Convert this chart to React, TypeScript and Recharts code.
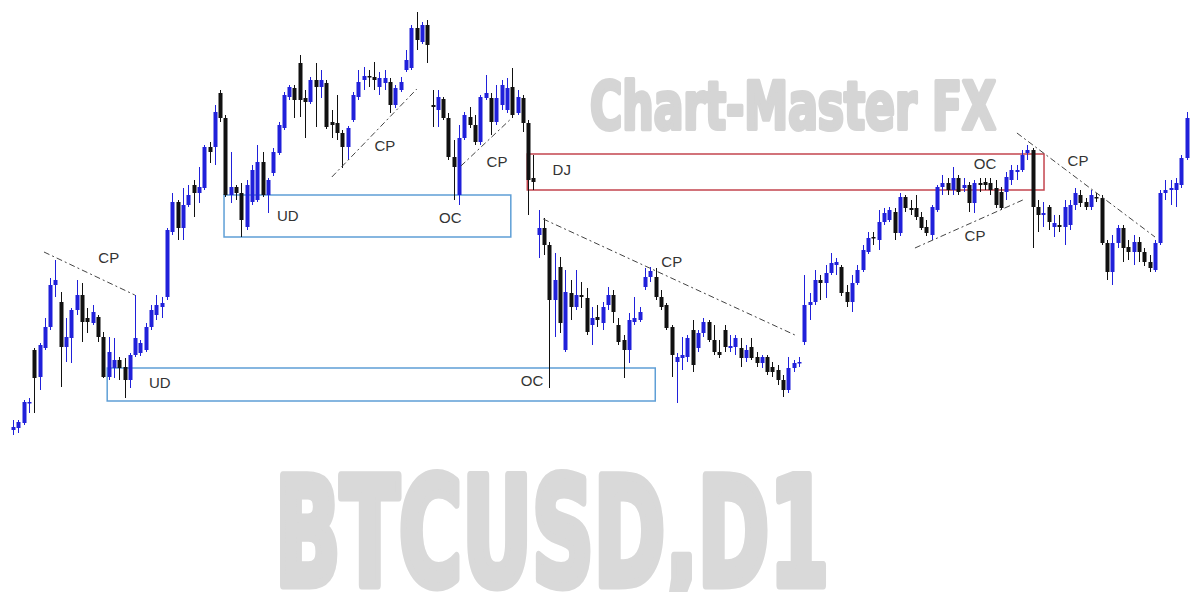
import {
  Bar,
  ComposedChart,
  ReferenceArea,
  ReferenceDot,
  ReferenceLine,
  XAxis,
  YAxis,
} from 'recharts';

// BTCUSD daily candles (price level units)
const OPEN = [
  170, 172, 177, 197, 250, 223, 252, 273, 315, 298,
  253, 262, 290, 305, 282, 277, 283, 263, 223, 232,
  240, 233, 220, 245, 247, 250, 273, 285, 293, 303,
  368, 398, 372, 395, 415, 407, 412, 453, 453, 507,
  482, 405, 413, 407, 373, 398, 400, 438, 405, 427,
  447, 472, 503, 512, 537, 502, 498, 520, 513, 517,
  478, 477, 467, 453, 480, 503, 520, 524, 523, 513,
  517, 518, 495, 510, 530, 532, 572, 558, 575, 495,
  490, 501, 482, 443, 405, 462, 483, 475, 458, 502,
  502, 478, 495, 490, 513, 487, 502, 477, 422, 365,
  372, 355, 300, 333, 250, 307, 293, 305, 302, 275,
  283, 277, 295, 305, 275, 260, 250, 278, 280, 313,
  323, 323, 303, 295, 273, 238, 242, 243, 270, 252,
  267, 278, 260, 248, 270, 252, 253, 252, 242, 253,
  243, 237, 243, 233, 230, 220, 210, 232, 237, 258,
  295, 298, 320, 317, 327, 335, 333, 308, 298, 317,
  330, 348, 363, 360, 378, 380, 388, 367, 403, 392,
  392, 383, 373, 365, 390, 413, 417, 410, 422, 412,
  415, 397, 417, 418, 417, 412, 408, 408, 420, 428,
  430, 447, 450, 393, 385, 393, 373, 375, 373, 375,
  395, 405, 398, 393, 403, 402, 357, 328, 357, 372,
  353, 348, 358, 348, 338, 330, 357, 407, 410, 410,
  415, 442,
];

const HIGH = [
  180, 180, 200, 202, 252, 257, 282, 322, 340, 308,
  282, 292, 320, 317, 292, 295, 285, 268, 263, 262,
  243, 242, 247, 305, 260, 277, 295, 305, 303, 372,
  407, 400, 412, 415, 420, 433, 455, 458, 495, 510,
  485, 448, 415, 417, 420, 435, 455, 448, 422, 452,
  478, 508, 515, 515, 545, 510, 523, 537, 530, 520,
  490, 505, 470, 474, 508, 530, 533, 530, 538, 528,
  530, 522, 515, 523, 550, 575, 588, 578, 580, 510,
  510, 503, 487, 460, 475, 488, 493, 485, 505, 525,
  507, 515, 520, 522, 532, 510, 505, 480, 445, 390,
  382, 358, 347, 343, 330, 320, 330, 318, 312, 293,
  295, 298, 313, 310, 282, 265, 287, 303, 293, 332,
  333, 332, 310, 297, 275, 247, 263, 265, 280, 270,
  282, 280, 275, 260, 275, 265, 265, 262, 255, 262,
  248, 245, 245, 238, 235, 225, 243, 240, 243, 325,
  307, 330, 325, 335, 347, 342, 335, 315, 325, 335,
  355, 368, 368, 390, 392, 393, 392, 407, 405, 400,
  405, 388, 380, 395, 415, 425, 422, 433, 425, 422,
  418, 420, 422, 422, 422, 420, 413, 428, 435, 435,
  450, 455, 452, 400, 398, 395, 385, 385, 400, 400,
  412, 410, 402, 410, 407, 405, 360, 365, 375, 375,
  360, 365, 363, 352, 345, 360, 410, 420, 420, 422,
  445, 488,
];

const LOW = [
  165, 167, 175, 187, 187, 210, 250, 270, 303, 213,
  238, 237, 285, 258, 267, 275, 258, 222, 220, 222,
  220, 202, 212, 243, 244, 248, 270, 280, 282, 300,
  365, 360, 360, 393, 383, 397, 410, 437, 435, 478,
  403, 397, 400, 363, 370, 395, 398, 403, 387, 424,
  445, 470, 500, 482, 483, 462, 496, 473, 502, 471,
  462, 460, 432, 440, 478, 500, 510, 513, 510, 505,
  510, 487, 492, 508, 528, 530, 550, 556, 537, 473,
  473, 480, 440, 400, 395, 460, 472, 455, 455, 500,
  465, 475, 490, 487, 482, 485, 468, 385, 410, 342,
  345, 212, 263, 267, 248, 280, 290, 292, 265, 255,
  273, 270, 290, 277, 255, 222, 237, 275, 278, 310,
  318, 300, 290, 270, 223, 197, 230, 238, 228, 248,
  263, 258, 245, 242, 248, 248, 245, 233, 238, 240,
  233, 232, 225, 223, 215, 203, 207, 228, 233, 255,
  280, 295, 300, 302, 325, 325, 304, 293, 288, 315,
  328, 346, 355, 350, 375, 378, 360, 364, 388, 385,
  380, 370, 364, 360, 388, 405, 405, 405, 405, 408,
  388, 387, 408, 410, 405, 392, 390, 400, 415, 420,
  428, 440, 352, 368, 373, 370, 363, 368, 355, 370,
  390, 393, 390, 390, 398, 355, 320, 315, 352, 338,
  340, 335, 338, 334, 328, 328, 355, 400, 395, 393,
  412, 440,
];

const CLOSE = [
  173, 178, 198, 198, 222, 255, 273, 315, 320, 253,
  263, 290, 305, 278, 278, 288, 263, 223, 248, 240,
  232, 220, 245, 262, 257, 273, 290, 295, 297, 370,
  398, 372, 395, 405, 407, 413, 453, 448, 488, 482,
  405, 413, 407, 380, 415, 430, 438, 405, 420, 448,
  475, 505, 513, 500, 500, 498, 520, 513, 520, 473,
  475, 467, 453, 472, 505, 518, 524, 523, 520, 522,
  522, 495, 512, 518, 540, 572, 560, 575, 555, 493,
  503, 482, 443, 433, 462, 485, 475, 458, 503, 507,
  478, 502, 515, 512, 485, 503, 477, 420, 418, 372,
  355, 300, 320, 277, 308, 293, 305, 303, 268, 282,
  280, 293, 305, 288, 258, 250, 280, 282, 288, 323,
  329, 303, 293, 272, 245, 243, 245, 262, 235, 267,
  278, 260, 248, 245, 253, 254, 262, 242, 250, 242,
  237, 243, 228, 228, 220, 210, 232, 237, 238, 295,
  298, 320, 317, 327, 337, 338, 307, 298, 317, 330,
  350, 362, 362, 378, 387, 390, 367, 403, 392, 390,
  383, 372, 367, 393, 413, 417, 410, 422, 408, 415,
  397, 417, 415, 415, 410, 395, 392, 423, 430, 430,
  445, 450, 393, 385, 387, 378, 377, 373, 393, 395,
  407, 397, 393, 405, 402, 357, 328, 357, 372, 352,
  348, 358, 348, 338, 332, 357, 407, 410, 412, 417,
  442, 482,
];

// zones drawn on the chart: [fromBar, toBar, top, bottom]
const UD_ZONES = [
  [39.8, 93.8, 405, 363],
  [17.8, 121.0, 232, 199],
];
const DJ_ZONE = [96.9, 194.2, 446, 410];

// trend lines: [fromBar, fromPrice, toBar, toPrice]
const CP_LINES = [
  [5.9, 348, 23.0, 305],
  [60.1, 423, 76.1, 511],
  [84.4, 434, 93.6, 480],
  [99.9, 381, 147.3, 265],
  [169.9, 352, 190.2, 400],
  [189.1, 467, 215.1, 363],
];

// text marks: [label, bar, price]
const MARKS: [string, number, number][] = [
  ['CP', 18.1, 342],
  ['UD', 27.7, 217],
  ['CP', 70.1, 454],
  ['UD', 51.8, 384],
  ['OC', 82.4, 382],
  ['CP', 91.2, 438],
  ['DJ', 103.4, 430],
  ['OC', 97.8, 219],
  ['CP', 124.1, 338],
  ['OC', 183.1, 436],
  ['CP', 181.2, 364],
  ['CP', 200.6, 439],
];

const UP = '#2020da';
const DOWN = '#111111';
const LABEL_FONT = "'Liberation Sans', Arial, sans-serif";
const MARK_FONT = "'Liberation Sans Narrow', 'DejaVu Sans Condensed', sans-serif";

const candles = OPEN.map((open, i) => ({
  i,
  open,
  high: HIGH[i],
  low: LOW[i],
  close: CLOSE[i],
  range: [LOW[i], HIGH[i]],
}));

function Candle(props: any) {
  const { x, y, width, height, payload } = props;
  const { open, close, high, low } = payload;
  const color = close >= open ? UP : DOWN;
  const span = high - low || 1;
  const toY = (v: number) => y + ((high - v) / span) * height;
  const top = toY(Math.max(open, close));
  const bottom = toY(Math.min(open, close));
  const cx = Math.round(x + width / 2) + 0.5;
  return (
    <g>
      <line x1={cx} x2={cx} y1={y} y2={y + height} stroke={color} strokeWidth={1} />
      <rect
        x={cx - width / 2}
        y={top}
        width={width}
        height={Math.max(bottom - top, 1.5)}
        fill={color}
      />
    </g>
  );
}

export default function App() {
  return (
    <div
      style={{
        position: 'absolute',
        left: 0,
        top: 0,
        width: 1191,
        height: 592,
        background: '#fff',
      }}
    >
      <svg
        width={1191}
        height={592}
        style={{ position: 'absolute', left: 0, top: 0 }}
      >
        <text
          x={590}
          y={129}
          fontSize={65}
          fontWeight='bold'
          fontFamily={MARK_FONT}
          fill='#d5d5d5'
          stroke='#d5d5d5'
          strokeWidth={4}
          strokeLinejoin='round'
          textLength={406}
          lengthAdjust='spacingAndGlyphs'
        >
          Chart-Master FX
        </text>
        <text
          x={275}
          y={585}
          fontSize={150}
          fontWeight='bold'
          fontFamily={MARK_FONT}
          fill='#d9d9d9'
          stroke='#d9d9d9'
          strokeWidth={9}
          strokeLinejoin='round'
          textLength={554}
          lengthAdjust='spacingAndGlyphs'
        >
          BTCUSD,D1
        </text>
      </svg>
      <div style={{ position: 'absolute', left: 0, top: 0 }}>
        <ComposedChart
          width={1191}
          height={592}
          data={candles}
          margin={{ top: 0, right: 2, bottom: 0, left: 10 }}
        >
          <XAxis dataKey='i' type='category' hide />
          <XAxis
            xAxisId='n'
            dataKey='i'
            type='number'
            domain={[-0.5, 221.5]}
            allowDataOverflow
            hide
          />
          <YAxis domain={[8, 600]} allowDataOverflow hide />
          {UD_ZONES.map(([x1, x2, y1, y2], k) => (
            <ReferenceArea
              key={'ud' + k}
              xAxisId='n'
              x1={x1}
              x2={x2}
              y1={y1}
              y2={y2}
              fill='none'
              stroke='#5f9fd6'
              strokeWidth={1.5}
            />
          ))}
          <ReferenceArea
            xAxisId='n'
            x1={DJ_ZONE[0]}
            x2={DJ_ZONE[1]}
            y1={DJ_ZONE[2]}
            y2={DJ_ZONE[3]}
            fill='none'
            stroke='#c4454f'
            strokeWidth={1.5}
          />
          {CP_LINES.map(([a, b, c, d], k) => (
            <ReferenceLine
              key={'cp' + k}
              xAxisId='n'
              segment={[
                { x: a, y: b },
                { x: c, y: d },
              ]}
              stroke='#444'
              strokeWidth={1}
              strokeDasharray='6 3 2 3'
            />
          ))}
          <Bar
            dataKey='range'
            barSize={4}
            shape={<Candle />}
            isAnimationActive={false}
          />
          {MARKS.map(([text, x, y], k) => (
            <ReferenceDot
              key={'m' + k}
              xAxisId='n'
              x={x}
              y={y}
              r={1}
              fill='none'
              stroke='none'
              label={{
                value: text,
                position: 'center',
                fill: '#333',
                fontSize: 15,
                fontFamily: LABEL_FONT,
              }}
            />
          ))}
        </ComposedChart>
      </div>
    </div>
  );
}
